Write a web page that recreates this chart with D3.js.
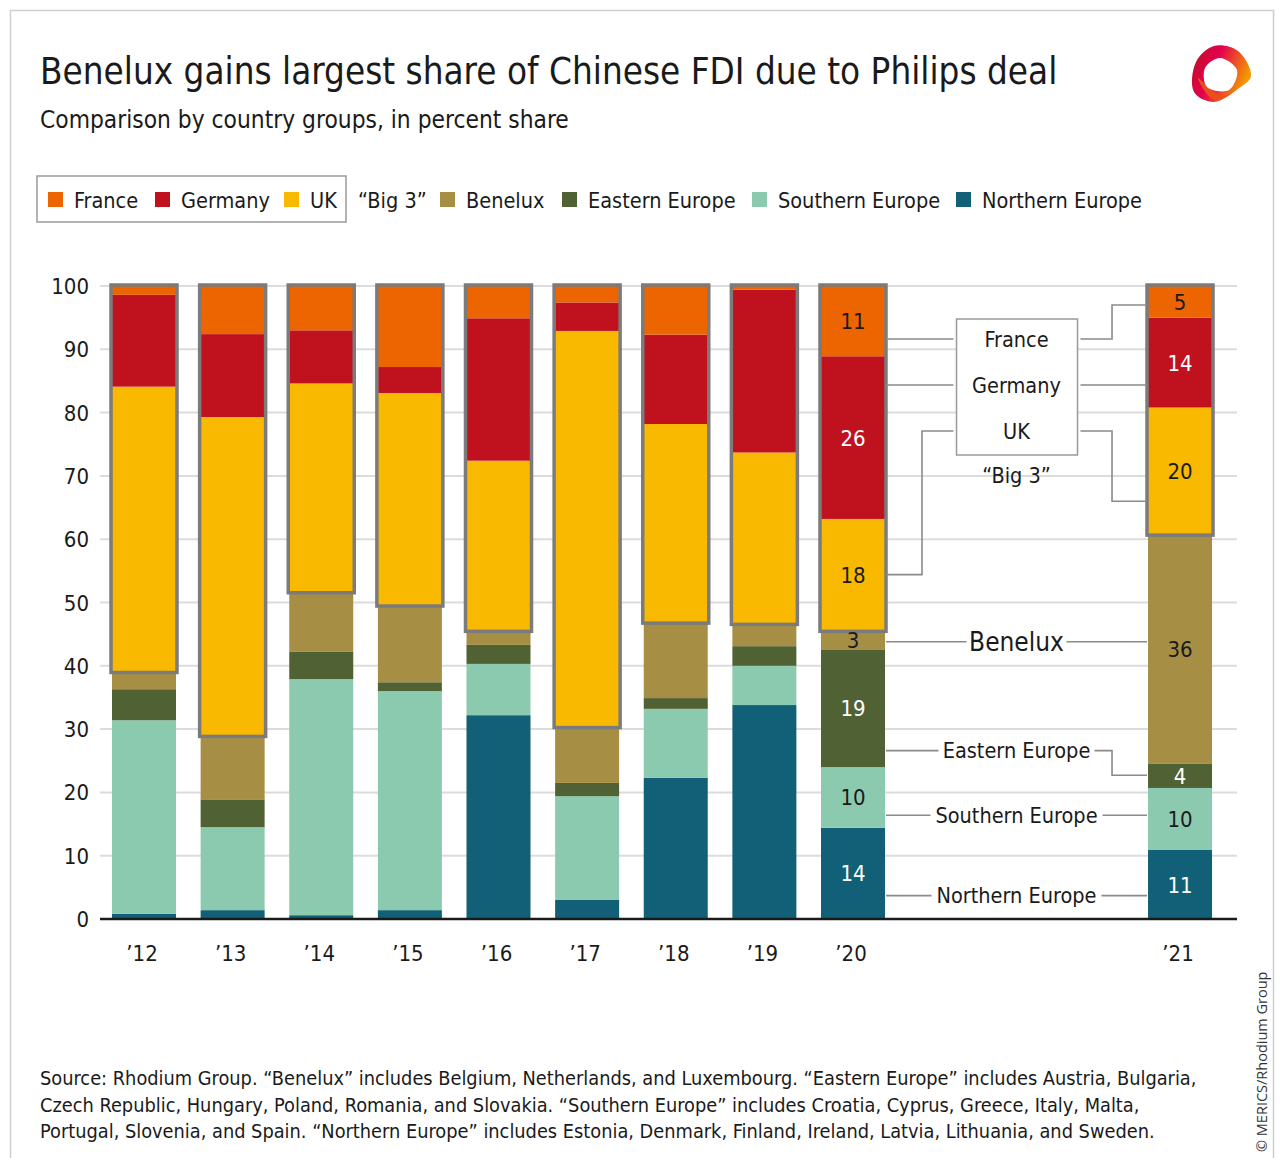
<!DOCTYPE html>
<html>
<head>
<meta charset="utf-8">
<script src="https://cdn.jsdelivr.net/npm/d3@7/dist/d3.min.js"></script>
<style>
  body { margin: 0; background: #fff; }
  svg { display: block; }
</style>
</head>
<body>
<div id="chart"></div>
<script>
// data (percent share)
const years    = ["’12", "’13", "’14", "’15", "’16", "’17", "’18", "’19", "’20", "’21"];
const northern = [0.8, 1.4, 0.6, 1.4, 32.2, 3.0, 22.3, 33.8, 14.4, 10.9];
const southern = [30.6, 13.1, 37.3, 34.6, 8.1, 16.4, 10.9, 6.2, 9.6, 9.8];
const eastern  = [4.9, 4.4, 4.3, 1.4, 3.0, 2.1, 1.7, 3.1, 18.6, 3.8];
const benelux  = [2.8, 10.1, 9.5, 12.2, 2.3, 8.9, 12.0, 3.6, 3.0, 36.3];
const uk       = [45.0, 50.3, 32.9, 33.5, 26.8, 62.5, 31.3, 27.0, 17.6, 20.0];
const germany  = [14.5, 13.1, 8.4, 4.1, 22.5, 4.5, 14.1, 25.7, 25.7, 14.2];
const france   = [1.4, 7.6, 7.0, 12.8, 5.1, 2.6, 7.7, 0.6, 11.1, 5.0];
const yTicks   = [0, 10, 20, 30, 40, 50, 60, 70, 80, 90, 100];
const labelled = ["’20", "’21"]; // bars that carry value labels

const series = [
  { key: "northern", name: "Northern Europe", values: northern, color: "#116077", light: true },
  { key: "southern", name: "Southern Europe", values: southern, color: "#8bcaae", light: false },
  { key: "eastern",  name: "Eastern Europe",  values: eastern,  color: "#506134", light: true },
  { key: "benelux",  name: "Benelux",         values: benelux,  color: "#a68f44", light: false },
  { key: "uk",       name: "UK",              values: uk,       color: "#f9b900", light: false },
  { key: "germany",  name: "Germany",         values: germany,  color: "#c0111f", light: true },
  { key: "france",   name: "France",          values: france,   color: "#ec6500", light: false }
];

const FONT = "'Liberation Sans Narrow', 'DejaVu Sans Condensed', Roboto, sans-serif";
const W = 1284, H = 1158;

const svg = d3.select("#chart").append("svg")
  .attr("width", W).attr("height", H)
  .style("font-family", FONT);

// frame
svg.append("rect")
  .attr("x", 10.5).attr("y", 10.5).attr("width", W - 21).attr("height", H)
  .attr("fill", "none").attr("stroke", "#cfcfcf").attr("stroke-width", 1.5);

// title
svg.append("text").attr("x", 40).attr("y", 84)
  .attr("font-size", 36.5).attr("fill", "#1a1a1a")
  .text("Benelux gains largest share of Chinese FDI due to Philips deal");
svg.append("text").attr("x", 40).attr("y", 128)
  .attr("font-size", 24.3).attr("fill", "#1a1a1a")
  .text("Comparison by country groups, in percent share");

// logo (rough ribbon)
const logo = svg.append("g");
const grad = svg.append("defs").append("linearGradient")
  .attr("id", "lg").attr("x1", "0").attr("x2", "1").attr("y1", "0").attr("y2", "0.4");
grad.append("stop").attr("offset", "0%").attr("stop-color", "#b8151f");
grad.append("stop").attr("offset", "45%").attr("stop-color", "#e3004f");
grad.append("stop").attr("offset", "100%").attr("stop-color", "#f39a00");
const blob = d3.line().curve(d3.curveCatmullRomClosed);
logo.append("path")
  .attr("d", blob([[1214, 46], [1238, 51], [1251, 76], [1238, 89], [1214, 102], [1194, 92], [1196, 62]]))
  .attr("fill", "url(#lg)");
logo.append("path")
  .attr("d", blob([[1198, 78], [1214, 100], [1236, 90], [1222, 96]]))
  .attr("fill", "#e94e1b");
logo.append("path")
  .attr("d", blob([[1220, 58], [1237, 70], [1229, 90], [1207, 87], [1205, 68]]))
  .attr("fill", "#fff");

// legend
const legendY = 200;
svg.append("rect").attr("x", 37).attr("y", 176).attr("width", 309).attr("height", 46)
  .attr("fill", "none").attr("stroke", "#9a9a9a").attr("stroke-width", 1.5);
const legendItems = [
  { key: "france", x: 48 }, { key: "germany", x: 155 }, { key: "uk", x: 284 },
  { key: "big3", x: 358 }, { key: "benelux", x: 440 }, { key: "eastern", x: 562 },
  { key: "southern", x: 752 }, { key: "northern", x: 956 }
];
legendItems.forEach(it => {
  if (it.key === "big3") {
    svg.append("text").attr("x", it.x).attr("y", legendY + 8)
      .attr("font-size", 21.5).attr("fill", "#1a1a1a").text("“Big 3”");
    return;
  }
  const s = series.find(d => d.key === it.key);
  svg.append("rect").attr("x", it.x).attr("y", legendY - 8).attr("width", 15).attr("height", 15)
    .attr("fill", s.color);
  svg.append("text").attr("x", it.x + 26).attr("y", legendY + 8)
    .attr("font-size", 21.5).attr("fill", "#1a1a1a").text(s.name);
});

// scales
const y = d3.scaleLinear().domain([0, 100]).range([919, 286]);
const slot = d3.scaleLinear().domain([0, 8]).range([144, 853]);
const gap21 = 2.69; // extra empty slots before '21
const x = i => slot(i === 9 ? i + gap21 : i);
const barW = 64;
const gridX0 = 100, gridX1 = 1237;

// grid
svg.append("g").selectAll("line").data(yTicks.filter(t => t > 0)).join("line")
  .attr("x1", gridX0).attr("x2", gridX1)
  .attr("y1", d => y(d)).attr("y2", d => y(d))
  .attr("stroke", "#dcdcdc").attr("stroke-width", 2);

svg.append("g").selectAll("text").data(yTicks).join("text")
  .attr("x", 89).attr("y", d => y(d) + 8)
  .attr("text-anchor", "end").attr("font-size", 22).attr("fill", "#1a1a1a")
  .text(d => d);

// stacked bars
const table = years.map((yr, i) => {
  const row = { year: yr, i: i };
  series.forEach(s => row[s.key] = s.values[i]);
  return row;
});
const stack = d3.stack().keys(series.map(s => s.key))(table);

const bars = svg.append("g");
stack.forEach((layer, li) => {
  const s = series[li];
  bars.selectAll(null).data(layer).join("rect")
    .attr("x", d => x(d.data.i) - barW / 2)
    .attr("y", d => y(d[1]))
    .attr("width", barW)
    .attr("height", d => y(d[0]) - y(d[1]))
    .attr("fill", s.color);
});

// "Big 3" outline
const ukLayer = stack[series.findIndex(s => s.key === "uk")];
const frLayer = stack[series.findIndex(s => s.key === "france")];
svg.append("g").selectAll("rect").data(table).join("rect")
  .attr("x", d => x(d.i) - barW / 2 - 1)
  .attr("y", d => y(frLayer[d.i][1]) - 1)
  .attr("width", barW + 2)
  .attr("height", d => y(ukLayer[d.i][0]) - y(frLayer[d.i][1]) + 2)
  .attr("fill", "none").attr("stroke", "#7b7b7b").attr("stroke-width", 3.5);

// axis line
svg.append("line").attr("x1", gridX0).attr("x2", gridX1)
  .attr("y1", y(0)).attr("y2", y(0))
  .attr("stroke", "#1a1a1a").attr("stroke-width", 2.5);

svg.append("g").selectAll("text").data(table).join("text")
  .attr("x", d => x(d.i) - 2).attr("y", 961)
  .attr("text-anchor", "middle").attr("font-size", 22).attr("fill", "#1a1a1a")
  .text(d => d.year);

// value labels on '20 and '21
stack.forEach((layer, li) => {
  const s = series[li];
  svg.append("g").selectAll("text")
    .data(layer.filter(d => labelled.includes(d.data.year))).join("text")
    .attr("x", d => x(d.data.i))
    .attr("y", d => (y(d[0]) + y(d[1])) / 2 + 8)
    .attr("text-anchor", "middle").attr("font-size", 22)
    .attr("fill", s.light ? "#fff" : "#1a1a1a")
    .text(d => Math.round(d[1] - d[0]));
});

// annotations between '20 and '21
const xl = x(8) + barW / 2 + 1, xr = x(9) - barW / 2 - 1;
const xm = (xl + xr) / 2;
const ann = svg.append("g").attr("fill", "none").attr("stroke", "#8a8a8a").attr("stroke-width", 1.6);
const pl = pts => ann.append("path").attr("d", d3.line()(pts));

// Big 3 box
const boxL = xm - 60, boxR = xm + 61;
svg.append("rect").attr("x", boxL).attr("y", 319).attr("width", boxR - boxL).attr("height", 136)
  .attr("fill", "#fff").attr("stroke", "#9a9a9a").attr("stroke-width", 1.5);
const boxRows = [
  { name: "France",  ty: 339, l: [[xl, 339]],                              r: [[xr, y(97)], [xr - 35, y(97)], [xr - 35, 339]] },
  { name: "Germany", ty: 385, l: [[xl, 385]],                              r: [[xr, 385]] },
  { name: "UK",      ty: 431, l: [[xl, y(54.4)], [922, y(54.4)], [922, 431]], r: [[xr, y(66)], [xr - 35, y(66)], [xr - 35, 431]] }
];
boxRows.forEach(b => {
  pl(b.l.concat([[boxL - 3, b.ty]]));
  pl([[boxR + 3, b.ty]].concat(b.r.slice().reverse()));
  svg.append("text").attr("x", xm).attr("y", b.ty + 8).attr("text-anchor", "middle")
    .attr("font-size", 21.5).attr("fill", "#1a1a1a").text(b.name);
});
svg.append("text").attr("x", xm).attr("y", 483).attr("text-anchor", "middle")
  .attr("font-size", 21.5).attr("fill", "#1a1a1a").text("“Big 3”");

// region labels
const regionRows = [
  { name: "Benelux",         v: 43.8, size: 26, half: 50, rv: 43.8 },
  { name: "Eastern Europe",  v: 26.6, size: 21.5, half: 78, rv: 22.7 },
  { name: "Southern Europe", v: 16.4, size: 21.5, half: 86, rv: 16.4 },
  { name: "Northern Europe", v: 3.7,  size: 21.5, half: 85, rv: 3.7 }
];
regionRows.forEach(r => {
  const ty = y(r.v);
  pl([[xl, ty], [xm - r.half, ty]]);
  if (r.rv === r.v) {
    pl([[xm + r.half, ty], [xr, ty]]);
  } else {
    pl([[xm + r.half, ty], [xr - 35, ty], [xr - 35, y(r.rv)], [xr, y(r.rv)]]);
  }
  svg.append("text").attr("x", xm).attr("y", ty + r.size * 0.36).attr("text-anchor", "middle")
    .attr("font-size", r.size).attr("fill", "#1a1a1a").text(r.name);
});

// source note
const notes = [
  "Source: Rhodium Group. “Benelux” includes Belgium, Netherlands, and Luxembourg. “Eastern Europe” includes Austria, Bulgaria,",
  "Czech Republic, Hungary, Poland, Romania, and Slovakia. “Southern Europe” includes Croatia, Cyprus, Greece, Italy, Malta,",
  "Portugal, Slovenia, and Spain. “Northern Europe” includes Estonia, Denmark, Finland, Ireland, Latvia, Lithuania, and Sweden."
];
svg.append("g").selectAll("text").data(notes).join("text")
  .attr("x", 40).attr("y", (d, i) => 1085 + i * 26.5)
  .attr("font-size", 19.8).attr("fill", "#1a1a1a")
  .text(d => d);

svg.append("text")
  .attr("transform", "translate(1267,1152) rotate(-90)")
  .attr("font-family", "'Open Sans', sans-serif").attr("font-size", 14.5).attr("fill", "#333")
  .text("© MERICS/Rhodium Group");
</script>
</body>
</html>
